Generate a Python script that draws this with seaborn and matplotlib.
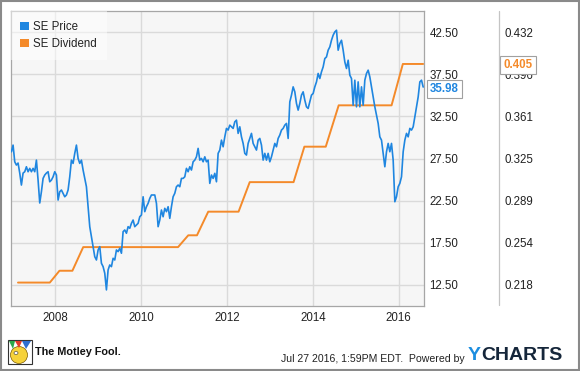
import numpy as np
import pandas as pd
import matplotlib
matplotlib.use("Agg")
import matplotlib.pyplot as plt
import seaborn as sns
from matplotlib.patches import Patch, Rectangle, Ellipse, Polygon
from matplotlib.lines import Line2D
from matplotlib.transforms import IdentityTransform

# ---------------- data ----------------
price_start = "2006-12-23"
price_end = "2016-07-27"
price = [
    28.30, 29.09, 27.11, 26.72, 26.96, 25.77, 24.35, 25.77, 25.93, 26.52,
    25.93, 26.33, 25.93, 26.33, 25.93, 27.31, 24.94, 22.22, 23.56, 25.14,
    25.54, 25.77, 25.93, 24.74, 24.94, 25.33, 25.93, 25.54, 22.57, 23.56,
    23.76, 23.37, 22.96, 23.17, 23.76, 25.33, 27.31, 26.92, 28.11, 29.09,
    27.51, 26.92, 27.31, 26.13, 25.14, 24.15, 21.78, 19.41, 18.22, 17.04,
    15.85, 15.46, 16.65, 17.04, 15.07, 14.67, 13.89, 11.91, 14.28, 14.87,
    14.67, 15.66, 15.46, 16.65, 16.45, 16.85, 16.26, 18.82, 19.02, 18.63,
    19.41, 19.22, 19.81, 20.20, 19.41, 19.61, 19.81, 20.59, 20.80, 22.96,
    21.19, 21.78, 22.18, 22.77, 23.17, 23.17, 23.17, 22.18, 19.41, 20.20,
    21.39, 20.59, 21.59, 21.19, 21.78, 20.40, 21.78, 22.96, 23.37, 24.15,
    24.35, 24.15, 25.14, 25.14, 25.33, 26.33, 25.93, 26.52, 26.13, 27.11,
    27.31, 27.70, 28.70, 27.31, 27.51, 27.11, 27.70, 27.11, 27.31, 24.55,
    25.54, 25.14, 25.74, 24.74, 28.11, 28.50, 29.68, 28.89, 30.07, 31.07,
    30.87, 31.46, 31.26, 31.07, 31.85, 32.05, 30.48, 31.26, 30.07, 29.29,
    28.11, 27.91, 29.29, 29.88, 30.48, 29.29, 28.89, 28.50, 29.68, 29.88,
    29.09, 27.31, 28.11, 27.31, 28.11, 27.11, 27.70, 28.50, 29.29, 28.89,
    29.88, 30.28, 30.87, 31.07, 31.46, 31.66, 29.88, 34.22, 35.02, 36.00,
    35.41, 34.03, 33.24, 34.03, 35.02, 35.41, 34.42, 33.63, 33.44, 34.22,
    35.02, 35.22, 36.00, 36.59, 37.59, 36.99, 37.78, 38.37, 39.36, 39.55,
    40.35, 40.74, 41.53, 42.13, 42.52, 42.72, 40.35, 41.14, 41.53, 40.35,
    38.96, 38.18, 39.16, 37.39, 36.99, 33.83, 36.79, 33.63, 36.59, 33.63,
    36.00, 33.83, 36.79, 37.59, 37.98, 37.18, 36.00, 34.81, 33.63, 32.65,
    31.66, 30.07, 29.68, 28.11, 26.52, 28.30, 29.29, 28.30, 29.29, 27.31,
    22.37, 22.96, 24.15, 24.55, 25.33, 28.30, 29.68, 30.48, 30.07, 31.07,
    30.87, 31.26, 32.44, 33.63, 34.81, 36.59, 36.79, 35.98,
]

div_dates = ["2007-02-17", "2007-11-15", "2008-02-05", "2008-05-25", "2008-08-25",
             "2010-11-10", "2011-02-05", "2011-04-20", "2011-07-25", "2012-04-08",
             "2012-07-12", "2013-07-20", "2013-10-20", "2014-04-20", "2014-08-08",
             "2015-11-01", "2016-02-05", "2016-07-27"]
div_vals = [0.22, 0.22, 0.23, 0.23, 0.25, 0.25, 0.26, 0.26, 0.28, 0.28,
            0.305, 0.305, 0.335, 0.335, 0.37, 0.37, 0.405, 0.405]

price_ticks = [12.5, 17.5, 22.5, 27.5, 32.5, 37.5, 42.5]
div_tick_labels = ["0.218", "0.254", "0.289", "0.325", "0.361", "0.396", "0.432"]
year_ticks = [2008, 2010, 2012, 2014, 2016]
series_names = ["SE Price", "SE Dividend"]

# ---------------- style ----------------
sns.set_style("white")
plt.rcParams["font.family"] = ["Liberation Sans", "DejaVu Sans"]

BLUE = "#1f86e0"
ORANGE = "#f48a2a"
BG = "#f6f6f6"
GRID = "#dadada"
SPINE = "#a6a6a6"
TXT = "#222222"

W, H = 580, 371
fig = plt.figure(figsize=(W / 100, H / 100), dpi=100)
fig.patch.set_facecolor("white")

def fx(px):
    return px / W

def fy(py):
    return 1 - py / H

L, R, T, B = 10.7, 424, 11, 306
ax_div = fig.add_axes([fx(L), fy(B), fx(R) - fx(L), fy(T) - fy(B)])
ax_price = ax_div.twinx()

pdf = pd.DataFrame({"date": pd.date_range(price_start, price_end, periods=len(price)),
                    "price": price})
ddf = pd.DataFrame({"date": pd.to_datetime(div_dates), "div": div_vals})

# dividend (bottom layer with background + grid)
ax_div.set_facecolor(BG)
sns.lineplot(data=ddf, x="date", y="div", ax=ax_div, color=ORANGE, lw=1.4,
             estimator=None, legend=False)
sns.lineplot(data=pdf, x="date", y="price", ax=ax_price, color=BLUE, lw=1.2,
             estimator=None, legend=False)

# scales
plo, phi = 10.0, 45.0
k = (float(div_tick_labels[-1]) - float(div_tick_labels[0])) / (price_ticks[-1] - price_ticks[0])
d0 = float(div_tick_labels[0])
ax_price.set_ylim(plo, phi)
ax_div.set_ylim(d0 + (plo - price_ticks[0]) * k, d0 + (phi - price_ticks[0]) * k)

ax_div.set_xlim(pd.Timestamp("2006-12-17"), pd.Timestamp("2016-08-03"))

ax_price.set_yticks(price_ticks)
ax_price.set_yticklabels([f"{v:.2f}" for v in price_ticks])
ax_div.yaxis.tick_right()
ax_div.set_yticks(np.linspace(d0, float(div_tick_labels[-1]), len(div_tick_labels)))
ax_div.set_yticklabels(div_tick_labels)
ax_div.set_xticks([pd.Timestamp(f"{y}-01-01") for y in year_ticks])
ax_div.set_xticklabels([str(y) for y in year_ticks])

ax_price.tick_params(axis="y", length=0, pad=4.0, labelsize=8.3, labelcolor=TXT)
ax_div.tick_params(axis="y", length=0, pad=58.0, labelsize=8.3, labelcolor=TXT,
                   left=False, labelleft=False, right=False, labelright=True)
ax_div.tick_params(axis="x", length=0, pad=4.0, labelsize=8.3, labelcolor=TXT)

for a in (ax_div, ax_price):
    a.set_xlabel("")
    a.set_ylabel("")

ax_div.grid(True, color=GRID, lw=1.0)
ax_div.set_axisbelow(True)
for s in ax_div.spines.values():
    s.set_color(SPINE)
    s.set_linewidth(0.9)
for s in ax_price.spines.values():
    s.set_visible(False)

# legend
handles = [Patch(facecolor=BLUE, edgecolor="none", label=series_names[0]),
           Patch(facecolor=ORANGE, edgecolor="none", label=series_names[1])]
leg = ax_price.legend(handles=handles, loc="upper left", bbox_to_anchor=(0, 1),
                      borderaxespad=0, frameon=True, fancybox=False,
                      facecolor="white", framealpha=0.5, edgecolor="none",
                      fontsize=8.3, handlelength=0.7, handleheight=0.7,
                      handletextpad=0.4, labelspacing=0.45, borderpad=0.85)
for t in leg.get_texts():
    t.set_color(TXT)

# end-value flags
ax_price.annotate(f"{price[-1]:.2f}", xy=(pdf["date"].iloc[-1], price[-1]),
                  xytext=(7, -2), textcoords="offset pixels", ha="left", va="center",
                  color=BLUE, fontweight="bold", fontsize=8.3, annotation_clip=False,
                  zorder=10,
                  bbox=dict(boxstyle="square,pad=0.25", fc="white", ec="#a0a0a0", lw=0.8))
ax_div.annotate(f"{div_vals[-1]:.3f}", xy=(ddf["date"].iloc[-1], div_vals[-1]),
                xytext=(80, -1), textcoords="offset pixels", ha="left", va="center",
                color=ORANGE, fontweight="bold", fontsize=8.3, annotation_clip=False,
                zorder=10,
                bbox=dict(boxstyle="square,pad=0.3", fc="white", ec="#a0a0a0", lw=0.8))

# separator between the two scales
fig.add_artist(Line2D([fx(499), fx(499)], [fy(11), fy(305)], transform=fig.transFigure,
                      color="#c4c4c4", lw=0.9))

# footer
fig.text(fx(281), fy(359), "Jul 27 2016, 1:59PM EDT.  Powered by", fontsize=7.6,
         ha="left", va="center", color=TXT)
fig.text(fx(468), fy(355), "Y", fontsize=14, fontweight="bold", ha="left", va="center",
         color="#1c8ee0")
fig.text(fx(481), fy(355), "CHARTS", fontsize=14, fontweight="bold", ha="left",
         va="center", color="#15263a")
fig.text(fx(35), fy(352), "The Motley Fool.", fontsize=7.8, fontweight="bold",
         ha="left", va="center", color="#111111")

# small jester logo
ident = IdentityTransform()
def P(x, y):
    return (x, H - y)
fig.add_artist(Rectangle(P(8, 364), 24, 24, transform=ident, fc="white", ec="#333333", lw=0.8))
fig.add_artist(Ellipse(P(19, 355), 17, 17, transform=ident, fc="#f6d23a", ec="#7a5a00", lw=0.5))
fig.add_artist(Polygon([P(9, 341), P(15, 341), P(13, 349)], closed=True, transform=ident,
                       fc="#2aa84a", ec="none"))
fig.add_artist(Polygon([P(15, 341), P(22, 341), P(19, 348)], closed=True, transform=ident,
                       fc="#e23a2a", ec="none"))
fig.add_artist(Polygon([P(22, 341), P(31, 341), P(26, 349)], closed=True, transform=ident,
                       fc="#2f6fd0", ec="none"))
fig.add_artist(Ellipse(P(16, 353), 4, 3, transform=ident, fc="white", ec="#333333", lw=0.4))

# outer border
fig.add_artist(Rectangle((0.75, 0.75), W - 1.5, H - 1.5, transform=ident, fill=False,
                         ec="#8a8a8a", lw=1.5))

fig.savefig("out.png", dpi=100)
